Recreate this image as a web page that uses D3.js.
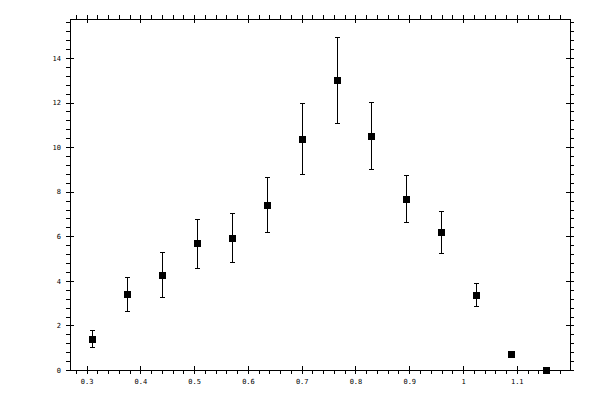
<!DOCTYPE html>
<html>
<head>
<meta charset="utf-8">
<script src="https://cdn.jsdelivr.net/npm/d3@7"></script>
<style>
  body { margin: 0; background: #fff; }
  svg { display: block; }
  .axis path, .axis line { stroke: #000; shape-rendering: crispEdges; }
  .axis text { font-family: "DejaVu Sans Mono", monospace; font-size: 7px; fill: #000; }
</style>
</head>
<body>
<div id="chart"></div>
<script>
// values
const xVals = [0.310, 0.3755, 0.4407, 0.5058, 0.5709, 0.636, 0.7011, 0.7651, 0.8295, 0.8946, 0.9597, 1.0249, 1.090, 1.155];
const yVals = [1.39, 3.41, 4.26, 5.70, 5.92, 7.40, 10.36, 13.01, 10.50, 7.67, 6.19, 3.36, 0.72, 0.0];
const yHigh = [1.79, 4.17, 5.29, 6.77, 7.04, 8.67, 11.98, 14.94, 12.02, 8.73, 7.13, 3.90, 0.72, 0.0];
const yLow  = [1.05, 2.65, 3.27, 4.58, 4.85, 6.19, 8.79, 11.08, 9.02, 6.64, 5.25, 2.87, 0.72, 0.0];
const xTicks = [0.3, 0.4, 0.5, 0.6, 0.7, 0.8, 0.9, 1.0, 1.1];
const yTicks = [0, 2, 4, 6, 8, 10, 12, 14];

const data = xVals.map((x, i) => ({ x: x, y: yVals[i], hi: yHigh[i], lo: yLow[i] }));

var w = 600, h = 400;
var pLeft = 70, pRight = 570, pTop = 19, pBottom = 370;

var svg = d3.select("#chart")
    .append("svg")
    .attr("width", w)
    .attr("height", h);

var x = d3.scaleLinear().domain([0.269, 1.199]).range([pLeft, pRight]);
var y = d3.scaleLinear().domain([0, 15.75]).range([pBottom, pTop]);

// minor tick positions
var xMinor = d3.range(0.28, 1.2, 0.02).filter(v => Math.abs(v * 10 - Math.round(v * 10)) > 1e-6);
var yMinor = d3.range(0.4, 15.7, 0.4).filter(v => Math.abs(v / 2 - Math.round(v / 2)) > 1e-6);

// frame
svg.append("rect")
    .attr("x", pLeft).attr("y", pTop)
    .attr("width", pRight - pLeft).attr("height", pBottom - pTop)
    .attr("fill", "none").attr("stroke", "#000")
    .style("shape-rendering", "crispEdges");

const fmtX = d => d === 1 ? "1" : d3.format(".1f")(d);

// helper to draw the ticks on one side
function sideAxis(axisFn, scale, transform, majors, minors, fmt) {
    // outward majors with labels (if any)
    svg.append("g").attr("class", "axis").attr("transform", transform)
        .call(axisFn(scale).tickValues(majors).tickSize(4).tickPadding(5)
            .tickFormat(fmt ? fmt : () => ""))
        .call(g => g.select(".domain").remove());
    // inward majors
    svg.append("g").attr("class", "axis").attr("transform", transform)
        .call(axisFn(scale).tickValues(majors).tickSize(-4).tickFormat(() => ""))
        .call(g => g.select(".domain").remove());
    // outward minors
    svg.append("g").attr("class", "axis").attr("transform", transform)
        .call(axisFn(scale).tickValues(minors).tickSize(4).tickFormat(() => ""))
        .call(g => g.select(".domain").remove());
}

sideAxis(d3.axisBottom, x, `translate(0, ${pBottom})`, xTicks, xMinor, fmtX);
sideAxis(d3.axisTop, x, `translate(0, ${pTop})`, xTicks, xMinor, null);
sideAxis(d3.axisLeft, y, `translate(${pLeft}, 0)`, yTicks, yMinor, d3.format("d"));
sideAxis(d3.axisRight, y, `translate(${pRight}, 0)`, yTicks, yMinor, null);

// error bars
var bars = svg.append("g")
    .attr("stroke", "#000")
    .attr("stroke-width", 1)
    .style("shape-rendering", "crispEdges");

var withErr = data.filter(d => d.hi > d.lo);

bars.selectAll("line.v")
    .data(withErr)
    .join("line")
    .attr("class", "v")
    .attr("x1", d => Math.round(x(d.x)) + 0.5)
    .attr("x2", d => Math.round(x(d.x)) + 0.5)
    .attr("y1", d => y(d.hi))
    .attr("y2", d => y(d.lo));

bars.selectAll("line.cap")
    .data(withErr.flatMap(d => [{ x: d.x, v: d.hi }, { x: d.x, v: d.lo }]))
    .join("line")
    .attr("class", "cap")
    .attr("x1", d => Math.round(x(d.x)) - 2)
    .attr("x2", d => Math.round(x(d.x)) + 3)
    .attr("y1", d => Math.round(y(d.v)) + 0.5)
    .attr("y2", d => Math.round(y(d.v)) + 0.5);

// square markers
svg.append("g")
    .selectAll("rect")
    .data(data)
    .join("rect")
    .attr("x", d => Math.round(x(d.x)) - 3)
    .attr("y", d => Math.round(y(d.y)) - 3)
    .attr("width", 7)
    .attr("height", 7)
    .attr("fill", "#000")
    .style("shape-rendering", "crispEdges");
</script>
</body>
</html>
